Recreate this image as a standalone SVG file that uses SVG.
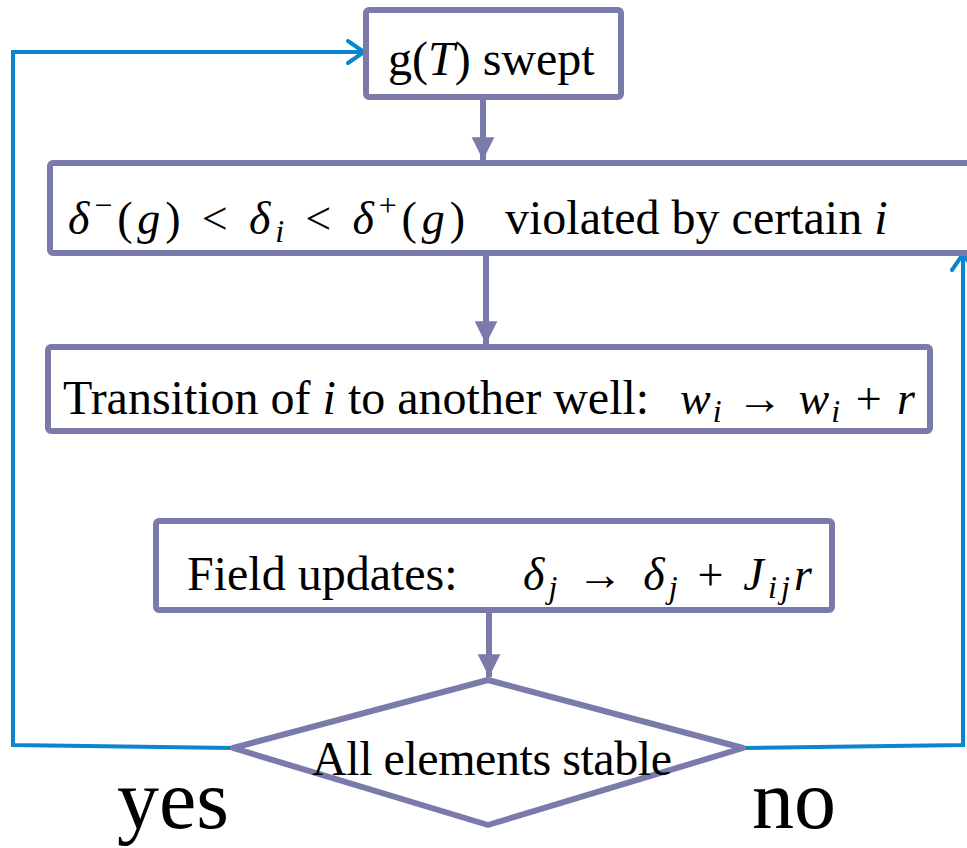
<svg xmlns="http://www.w3.org/2000/svg" width="967" height="848" viewBox="0 0 967 848">
<defs>
<style>
.box{fill:#fff;stroke:#7A7AAB;stroke-width:6;stroke-linejoin:round}
.flow{stroke:#7A7AAB;stroke-width:6;fill:none}
.loop{stroke:#0A86CE;stroke-width:4;fill:none}
text{font-family:"Liberation Serif","Times New Roman","DejaVu Serif",serif;fill:#000}
.t{font-size:48px}
.m{font-size:46px}
.s{font-size:32px}
.big{font-size:84px}
</style>
<marker id="ah" viewBox="0 0 10 10" refX="10" refY="5" markerWidth="3.8" markerHeight="4" orient="auto" markerUnits="strokeWidth">
<path d="M0,0 L10,5 L0,10 z" fill="#7A7AAB"/>
</marker>
<marker id="bh" viewBox="0 0 14 14" refX="12" refY="7" markerWidth="7" markerHeight="7" orient="auto" markerUnits="strokeWidth">
<path d="M4,1.5 L12,7 L4,12.5" fill="none" stroke="#0A86CE" stroke-width="2" stroke-linecap="round"/>
</marker>
</defs>
<g id="connectors">
<line class="flow" x1="483" y1="98" x2="483" y2="160" marker-end="url(#ah)"/>
<line class="flow" x1="486" y1="254" x2="486" y2="344" marker-end="url(#ah)"/>
<line class="flow" x1="489" y1="611" x2="489" y2="677" marker-end="url(#ah)"/>
<polyline class="loop" points="233,748 13,745 13,52 364,52" marker-end="url(#bh)"/>
<polyline class="loop" points="743,748 963,745 963,254" marker-end="url(#bh)"/>
</g>
<g id="node1">
<rect class="box" x="366" y="10" width="255" height="87" rx="3"/>
<text class="t" x="388" y="75">g(<tspan font-style="italic">T</tspan>) swept</text>
</g>
<g id="node2">
<rect class="box" x="50" y="163" width="940" height="90" rx="3"/>
<text class="m" x="68" y="234" textLength="397"><tspan font-style="italic">δ</tspan><tspan class="s" dy="-18">−</tspan><tspan dy="18">(</tspan><tspan font-style="italic">g</tspan>) &lt; <tspan font-style="italic">δ</tspan><tspan class="s" font-style="italic" dy="8">i</tspan><tspan dy="-8"> &lt; </tspan><tspan font-style="italic">δ</tspan><tspan class="s" dy="-18">+</tspan><tspan dy="18">(</tspan><tspan font-style="italic">g</tspan>)</text>
<text class="t" x="505" y="234">violated by certain <tspan font-style="italic">i</tspan></text>
</g>
<g id="node3">
<rect class="box" x="48" y="347" width="882" height="84" rx="3"/>
<text class="t" x="63" y="414">Transition of <tspan font-style="italic">i</tspan> to another well:</text>
<text class="m" x="680" y="414" textLength="235"><tspan font-style="italic">w</tspan><tspan class="s" font-style="italic" dy="8">i</tspan><tspan dy="-8"> → </tspan><tspan font-style="italic">w</tspan><tspan class="s" font-style="italic" dy="8">i</tspan><tspan dy="-8"> + </tspan><tspan font-style="italic">r</tspan></text>
</g>
<g id="node4">
<rect class="box" x="156" y="521" width="676" height="89" rx="3"/>
<text class="t" x="187" y="590">Field updates:</text>
<text class="m" x="523" y="590" textLength="289"><tspan font-style="italic">δ</tspan><tspan class="s" font-style="italic" dy="8">j</tspan><tspan dy="-8"> → </tspan><tspan font-style="italic">δ</tspan><tspan class="s" font-style="italic" dy="8">j</tspan><tspan dy="-8"> + </tspan><tspan font-style="italic">J</tspan><tspan class="s" font-style="italic" dy="8">ij</tspan><tspan font-style="italic" dy="-8">r</tspan></text>
</g>
<g id="node5">
<polygon class="box" points="233,748 488,680 743,748 488,825"/>
<text class="t" x="312" y="775" textLength="360">All elements stable</text>
</g>
<text class="big" x="117" y="828">yes</text>
<text class="big" x="752" y="828">no</text>
</svg>
